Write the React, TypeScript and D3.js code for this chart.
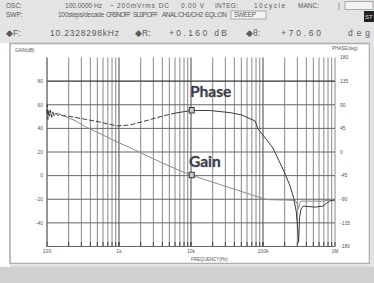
import React from "react";
import * as d3 from "d3";

const W = 374;
const H = 283;

// Gain trace (Hz, dB)
const gainFreq = [100, 101, 103, 106, 110, 115, 121, 128, 140, 151, 180, 245, 350, 545, 900, 1420, 2960, 6000, 10000, 25400, 56000, 113000, 200000, 280000, 300000, 312000, 325000, 335000, 530000, 680000, 850000, 1000000];
const gainDb = [57, 50, 56, 52, 55, 51, 54, 52, 53, 52, 50, 46.6, 41, 35.6, 29, 23.7, 14.4, 5.9, 0.5, -7.6, -14.4, -20.3, -20.7, -21, -24, -28, -23, -21.6, -21.6, -21.6, -20.6, -20.3];

// Phase trace (Hz, deg)
const phaseFreq = [100, 101, 103, 105, 108, 112, 116, 120, 126, 132, 140, 151, 170, 200, 245, 350, 545, 937, 1420, 2300, 4070, 6000, 10000, 18400, 34800, 51000, 77800, 85000, 113000, 137000, 170000, 200000, 235000, 265000, 290000, 305000, 312000, 322000, 335000, 360000, 530000, 680000, 850000, 1000000];
const phaseDeg = [72, 90, 62, 78, 68, 80, 66, 75, 69, 74, 70, 71, 69, 68, 66, 62, 57, 49.6, 51.5, 59, 68.6, 74, 79, 79, 75, 70.5, 59, 44, 23, 7.6, -19, -40, -63, -86, -114, -150, -172, -125, -110, -103, -105, -103, -93, -91.5];

const gainTicks = [80, 60, 40, 20, 0, -20, -40];
const phaseTicks = [180, 135, 90, 45, 0, -45, -90, -135, -180];
const freqLabels = [
  { f: 100, t: "100" },
  { f: 1000, t: "1k" },
  { f: 10000, t: "10k" },
  { f: 100000, t: "100k" },
  { f: 1000000, t: "1M" },
];
const markerFreq = 10233;

export default function App() {
  const x = d3.scaleLog().domain([100, 1e6]).range([47, 335]);
  const yG = d3.scaleLinear().domain([-60, 100]).range([246.5, 57.5]);
  const yP = d3.scaleLinear().domain([-180, 180]).range([246.5, 57.5]);

  const vGrid: number[] = [];
  for (let dec = 100; dec < 1e6; dec *= 10) {
    for (let k = 1; k <= 10; k++) vGrid.push(dec * k);
  }

  const gainPts = gainFreq.map((f, i) => [f, gainDb[i]] as [number, number]);
  const phasePts = phaseFreq.map((f, i) => [f, phaseDeg[i]] as [number, number]);
  const lineG = d3.line<[number, number]>().x((d) => x(d[0])).y((d) => yG(d[1]));
  const lineP = d3.line<[number, number]>().x((d) => x(d[0])).y((d) => yP(d[1]));
  const phaseLow = phasePts.filter((d) => d[0] <= 6000);
  const phaseHigh = phasePts.filter((d) => d[0] >= 6000);

  const mx = x(markerFreq);
  const gInterp = d3.scaleLog().domain(gainFreq.slice(17, 20)).range(gainDb.slice(17, 20));
  const pInterp = d3.scaleLog().domain(phaseFreq.slice(21, 24)).range(phaseDeg.slice(21, 24));
  const myG = yG(gInterp(markerFreq));
  const myP = yP(pInterp(markerFreq));

  const hdr = { fontFamily: "Liberation Sans, Arial, sans-serif", fontSize: 6.5, fill: "#5a5a5a" } as const;
  const hdr3 = { fontFamily: "Liberation Sans, Arial, sans-serif", fontSize: 8.5, fill: "#5a5a5a" } as const;
  const axisTxt = { fontFamily: "Liberation Sans, Arial, sans-serif", fontSize: 5, fill: "#555" } as const;
  const annot = {
    fontFamily: "Lato, 'Open Sans', sans-serif",
    fontWeight: 700,
    fontSize: 15.5,
    fill: "#27406a",
    stroke: "#e8a040",
    strokeWidth: 1.2,
    strokeOpacity: 0.55,
    paintOrder: "stroke",
  } as const;

  return (
    <svg width={W} height={H} style={{ position: "fixed", left: 0, top: 0 }} viewBox={`0 0 ${W} ${H}`}>
      <rect x={0} y={0} width={W} height={H} fill="#ffffff" />
      {/* header */}
      <rect x={0} y={0} width={W} height={43} fill="#e4e4e4" />
      <text {...hdr} x={6} y={8}>OSC:</text>
      <text {...hdr} x={65} y={8} textLength={37}>100.0000 Hz</text>
      <text {...hdr} x={110} y={8}>~</text>
      <text {...hdr} x={117} y={8} textLength={52}>200mVrms DC</text>
      <text {...hdr} x={181} y={8} textLength={23}>0.00 V</text>
      <text {...hdr} x={215} y={8} textLength={23}>INTEG:</text>
      <text {...hdr} x={254} y={8} textLength={31}>10cycle</text>
      <text {...hdr} x={298} y={8} textLength={21}>MANC:</text>
      <text {...hdr} x={338} y={8}>|</text>
      <rect x={345} y={1.5} width={28} height={8} fill="#f2f2f2" stroke="#999" strokeWidth={0.8} />
      <text {...hdr} x={6} y={17}>SWP:</text>
      <text {...hdr} x={58} y={17} textLength={46}>100steps/decade</text>
      <text {...hdr} x={106} y={17} textLength={25}>CRSN:OFF</text>
      <text {...hdr} x={133} y={17} textLength={25}>SLSP:OFF</text>
      <text {...hdr} x={162} y={17} textLength={41}>ANAL:CH1/CH2</text>
      <text {...hdr} x={205} y={17} textLength={22}>EQL:ON</text>
      <rect x={231} y={11} width={35} height={8} fill="#f4f4f4" stroke="#999" strokeWidth={0.8} />
      <text {...hdr} x={234} y={17} textLength={22}>SWEEP</text>
      <rect x={364} y={11} width={10} height={11} fill="#222" />
      <text x={365} y={19} fontSize={6} fill="#ddd" fontFamily="Liberation Sans, sans-serif">ST</text>
      <text {...hdr3} x={6} y={36}>◆F:</text>
      <text {...hdr3} x={50} y={36} textLength={69}>10.2328298kHz</text>
      <text {...hdr3} x={135} y={36}>◆R:</text>
      <text {...hdr3} x={169} y={36} textLength={58}>+0.160 dB</text>
      <text {...hdr3} x={246} y={36}>◆θ:</text>
      <text {...hdr3} x={281} y={36} textLength={40}>+70.60</text>
      <text {...hdr3} x={348} y={36} textLength={22}>deg</text>

      {/* screen frame */}
      <rect x={10} y={43.5} width={359.5} height={220} fill="#fff" stroke="#b0b0b0" strokeWidth={1.6} />
      <rect x={0} y={267} width={W} height={16} fill="#d0d0d0" />
      <line x1={10} x2={370} y1={266} y2={266} stroke="#bbb" strokeWidth={1} />
      <rect x={370.5} y={43} width={3.5} height={224} fill="#e2e2e2" />

      {/* grid */}
      {vGrid.map((f, i) => (
        <line key={"v" + i} x1={x(f)} x2={x(f)} y1={57.5} y2={246.5} stroke="#7a7a7a" strokeWidth={0.9} />
      ))}
      {vGrid.map((f, i) => (
        <line key={"t" + i} x1={x(f)} x2={x(f)} y1={242} y2={246.5} stroke="#444" strokeWidth={1} />
      ))}
      {gainTicks.map((g) => (
        <line key={"h" + g} x1={47} x2={335} y1={yG(g)} y2={yG(g)} stroke={g === 80 ? "#333" : "#666"} strokeWidth={g === 80 ? 1.4 : 1} />
      ))}
      <line x1={47} x2={335} y1={246.5} y2={246.5} stroke="#666" strokeWidth={1} />
      <line x1={47} x2={47} y1={57.5} y2={246.5} stroke="#666" strokeWidth={1} />

      {/* axes labels */}
      {gainTicks.map((g) => (
        <text key={"gl" + g} {...axisTxt} x={43} y={yG(g) + 1.8} textAnchor="end">{g}</text>
      ))}
      {phaseTicks.map((p) => (
        <text key={"pl" + p} {...axisTxt} x={340} y={yP(p) + 1.8}>{p}</text>
      ))}
      {freqLabels.map((d) => (
        <text key={d.t} {...axisTxt} x={x(d.f)} y={253} textAnchor="middle">{d.t}</text>
      ))}
      <text {...axisTxt} x={15} y={52} fontSize={4.5}>GAIN(dB)</text>
      <text {...axisTxt} x={332} y={50} fontSize={4.5}>PHASE(deg)</text>
      <text {...axisTxt} x={191} y={261} fontSize={4.5}>FREQUENCY(Hz)</text>

      {/* traces */}
      <path d={lineG(gainPts) || ""} fill="none" stroke="#8c8c8c" strokeWidth={1} />
      <path d={lineP(phaseLow) || ""} fill="none" stroke="#3c3c3c" strokeWidth={1} strokeDasharray="5 2" />
      <path d={lineP(phaseHigh) || ""} fill="none" stroke="#3c3c3c" strokeWidth={1} />

      {/* markers */}
      <rect x={mx - 2.5} y={myP - 3} width={5} height={5.5} fill="#ccc" stroke="#333" strokeWidth={1} />
      <rect x={mx - 2.5} y={myG - 3} width={5} height={5.5} fill="#ccc" stroke="#333" strokeWidth={1} />

      {/* annotations */}
      <text {...annot} x={190} y={97}>Phase</text>
      <text {...annot} x={189} y={167}>Gain</text>
    </svg>
  );
}
